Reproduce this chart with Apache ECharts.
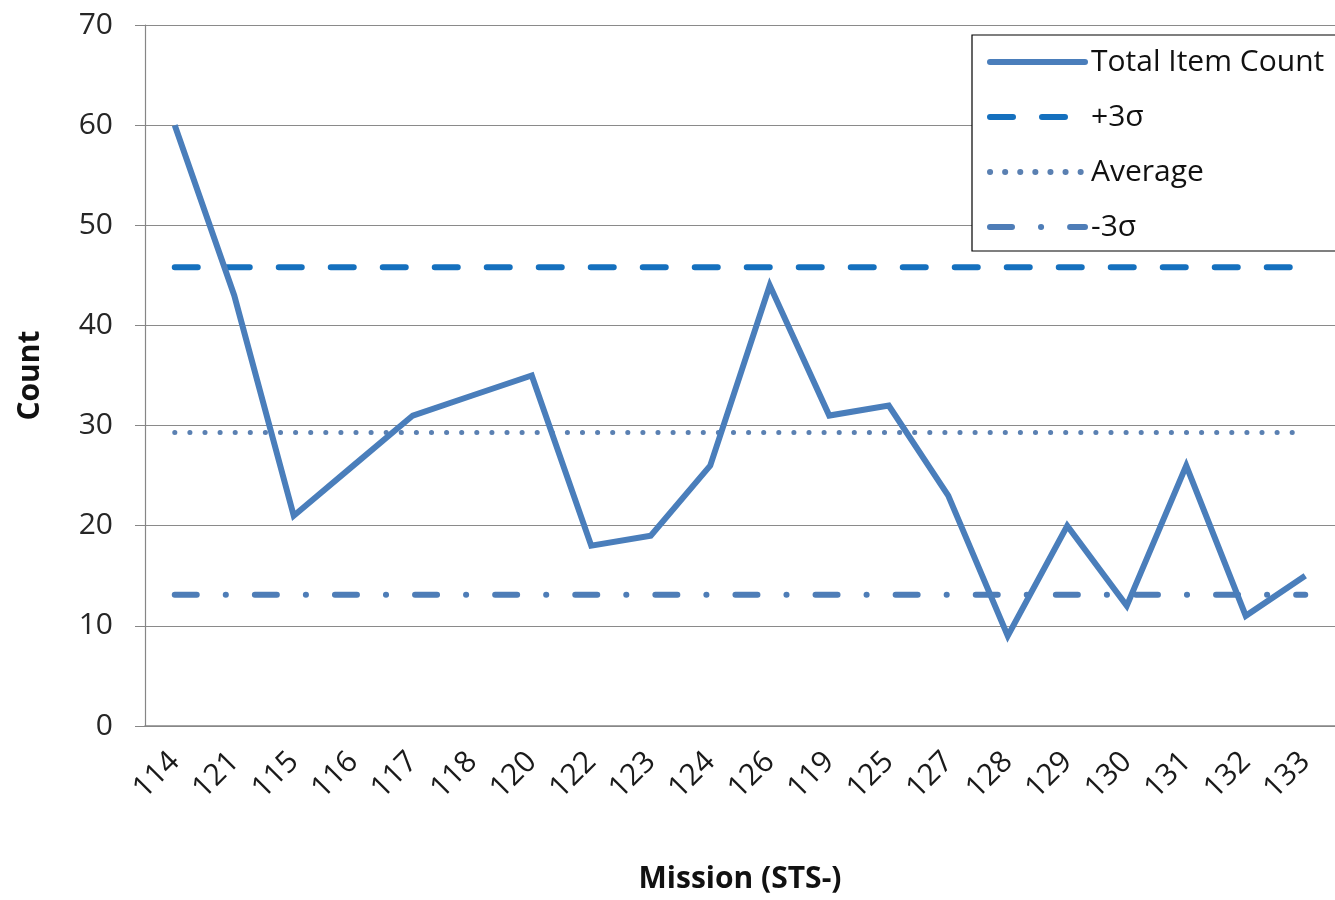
<!DOCTYPE html>
<html>
<head>
<meta charset="utf-8">
<script src="https://cdn.jsdelivr.net/npm/echarts@6/dist/echarts.min.js"></script>
<style>
html,body{margin:0;padding:0;background:#fff;}
#chart{width:1335px;height:900px;}
</style>
</head>
<body>
<div id="chart"></div>
<script>
// Data
var missions = ['114','121','115','116','117','118','120','122','123','124','126','119','125','127','128','129','130','131','132','133'];
var totalItemCount = [60,43,21,26,31,33,35,18,19,26,44,31,32,23,9,20,12,26,11,15];
var plus3Sigma = 45.8;
var average = 29.3;
var minus3Sigma = 13.1;
var yTicks = [0,10,20,30,40,50,60,70];

var first = missions[0], last = missions[missions.length-1];
var chart = echarts.init(document.getElementById('chart'), null, {renderer:'canvas'});
var font = 'Open Sans';
chart.setOption({
  animation:false,
  backgroundColor:'#ffffff',
  grid:{left:145, top:25, bottom:174, width:1198, containLabel:false},
  legend:{
    orient:'vertical', left:972, top:35,
    padding:[12,15,9,15],
    itemWidth:95, itemHeight:26, itemGap:25,
    backgroundColor:'#ffffff', borderColor:'#000000', borderWidth:1.2,
    itemStyle:{opacity:0},
    lineStyle:{width:6, cap:'round'},
    textStyle:{fontFamily:font, fontSize:30, color:'#111', padding:[0,0,0,1]},
    data:['Total Item Count','+3σ','Average','-3σ']
  },
  xAxis:{
    type:'category', data:missions, boundaryGap:true,
    name:'Mission (STS-)', nameLocation:'middle', nameGap:138,
    nameTextStyle:{fontFamily:font, fontSize:30, fontWeight:'bold', color:'#111'},
    axisLine:{show:true, lineStyle:{color:'#868686', width:1.5}},
    axisTick:{show:false},
    axisLabel:{rotate:45, margin:31, fontFamily:font, fontSize:30, color:'#1a1a1a'},
    splitLine:{show:false}
  },
  yAxis:{
    type:'value', min:yTicks[0], max:yTicks[yTicks.length-1], interval:10,
    name:'Count', nameLocation:'middle', nameGap:100, nameRotate:90,
    nameTextStyle:{fontFamily:font, fontSize:30, fontWeight:'bold', color:'#111'},
    axisLine:{show:true, lineStyle:{color:'#868686', width:1.2}},
    axisTick:{show:true, inside:false, length:10, lineStyle:{color:'#868686'}},
    axisLabel:{margin:32, fontFamily:font, fontSize:30, color:'#262626'},
    splitLine:{show:true, lineStyle:{color:'#8a8a8a', width:1.2}}
  },
  series:[
    {name:'Total Item Count', type:'line', data:totalItemCount, symbol:'none',
     lineStyle:{color:'#4A7EBB', width:6, join:'miter'}, itemStyle:{color:'#4A7EBB'}, z:5},
    {name:'+3σ', type:'line', data:[[first,plus3Sigma],[last,plus3Sigma]], symbol:'none',
     lineStyle:{color:'#1570BE', width:6, type:[23,29], cap:'round'}, itemStyle:{color:'#1570BE'}, z:3},
    {name:'Average', type:'line', data:[[first,average],[last,average]], symbol:'none',
     lineStyle:{color:'#5A80B2', width:5, type:[0.1,15], cap:'round'}, itemStyle:{color:'#5A80B2'}, z:3},
    {name:'-3σ', type:'line', data:[[first,minus3Sigma],[last,minus3Sigma]], symbol:'none',
     lineStyle:{color:'#4E7DB7', width:6, type:[22,29,0.1,29], cap:'round'}, itemStyle:{color:'#4E7DB7'}, z:3}
  ]
});
</script>
</body>
</html>
